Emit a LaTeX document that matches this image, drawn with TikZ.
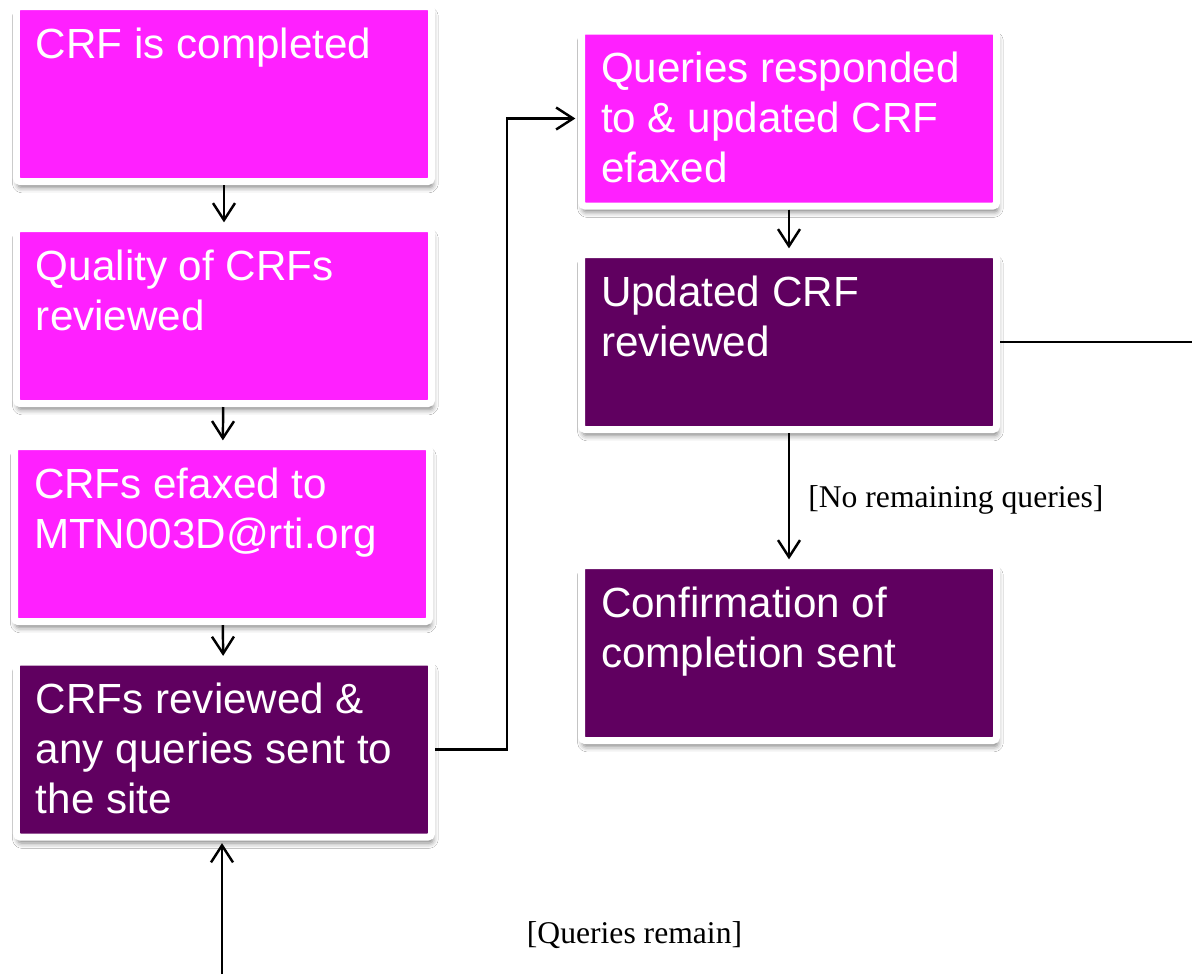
\documentclass[tikz,border=0pt]{standalone}
\usepackage{fontspec}
\setmainfont{Liberation Serif}
\setsansfont{Liberation Sans}
\usetikzlibrary{arrows.meta,shadows.blur}

\definecolor{crfpink}{RGB}{255,32,255}
\definecolor{crfplum}{RGB}{96,0,96}

% box text sits at the top left corner of the box
\newcommand{\boxlines}[1]{\parbox[c][2.66cm][t]{7.52cm}{\raggedright #1}}

\begin{document}
\begin{tikzpicture}[
    stepbox/.style={draw=white, line width=0.14cm, rounded corners=2pt, text=white,
      minimum width=8.3cm, minimum height=3.5cm,
      inner xsep=0.39cm, inner ysep=0.42cm,
      font=\sffamily\fontsize{24}{28.5}\selectfont,
      blur shadow={shadow xshift=0.8pt, shadow yshift=-3.4pt,
        shadow blur radius=3pt, shadow opacity=50}},
    sitebox/.style={stepbox, fill=crfpink},
    dmcbox/.style={stepbox, fill=crfplum},
    flow/.style={line width=1.4pt, -{Straight Barb[length=3.4mm, width=4.4mm]}, shorten >=1.5pt},
    guard/.style={font=\fontsize{18}{21}\selectfont, inner sep=0pt}]
  \fill[white] (0,0) rectangle (23.84,-19.48);
  \useasboundingbox (0,0) rectangle (23.84,-19.48);

  % left column: site side
  \node[sitebox] (done) at (4.48,-1.88) {\boxlines{CRF is completed}};
  \node[sitebox] (quality) at (4.48,-6.32) {\boxlines{Quality of CRFs\\ reviewed}};
  \node[sitebox] (efax) at (4.44,-10.68) {\boxlines{CRFs efaxed to\\ MTN003D@rti.org}};
  \node[dmcbox] (sent) at (4.48,-14.99) {\boxlines{CRFs reviewed \&\\ any queries sent to\\ the site}};

  % right column
  \node[sitebox] (resp) at (15.78,-2.37) {\boxlines{Queries responded\\ to \& updated CRF\\ efaxed}};
  \node[dmcbox] (check) at (15.78,-6.84) {\boxlines{Updated CRF\\ reviewed}};
  \node[dmcbox] (confirm) at (15.78,-13.06) {\boxlines{Confirmation of\\ completion sent}};

  \coordinate (bend) at (10.14,0);
  \coordinate (away) at (23.84,0);
  \coordinate (back) at (4.44,-19.48);

  \draw[flow] (done) -- (quality);
  \draw[flow] (quality) -- (efax);
  \draw[flow] (efax) -- (sent);
  \draw[flow] (sent.east) -- (sent.east -| bend) |- (resp.west);
  \draw[flow] (resp) -- (check);
  \draw[flow] (check) -- (confirm);
  \draw[line width=1.4pt] (check.east) -- (check.east -| away);
  \draw[flow] (back) -- (back |- sent.south);

  \node[guard, anchor=west] (noq) at (16.16,-10.0) {[No remaining queries]};
  \node[guard] (remain) at (12.69,-18.7) {[Queries remain]};
\end{tikzpicture}
\end{document}
